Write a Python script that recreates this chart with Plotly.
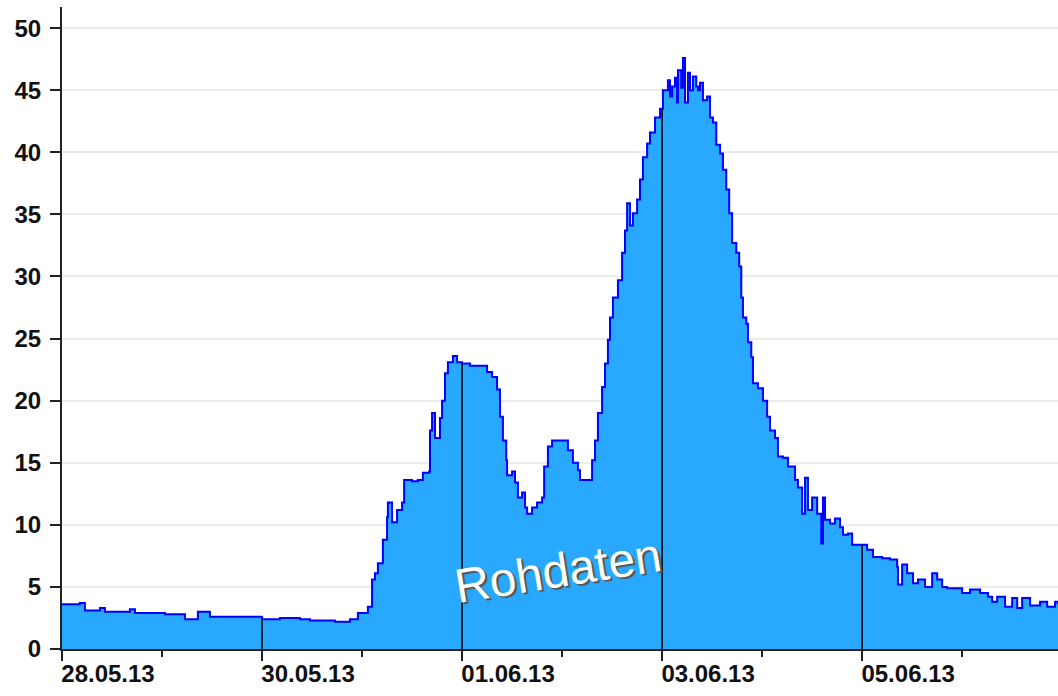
import numpy as np
import pandas as pd
import plotly.graph_objects as go

# hours since 28.05.13 00:00
hours = [0, 4.3, 5.5, 9.1, 10.3, 16.3, 17.5, 24.7, 29.5, 32.6, 35.5, 40.3, 48.0, 52.3, 57.1, 59.5,
         65.5, 69.1, 71.0, 73.0, 73.4, 74.4, 75.1, 75.8, 77.0, 78.0, 78.2, 79.2, 80.4, 81.6, 82.1,
         84.0, 85.4, 86.6, 88.1, 88.3, 88.8, 89.5, 90.7, 91.2, 91.9, 92.6, 93.8, 94.8, 96.0, 97.9,
         101.5, 102.0, 103.2, 104.4, 105.1, 105.8, 106.6, 106.8, 108.0, 108.7, 109.4, 110.4, 111.1,
         111.6, 112.8, 114.0, 115.2, 115.7, 116.6, 117.6, 120.7, 121.4, 122.6, 123.8, 124.3, 126.2,
         127.2, 127.9, 128.6, 129.6, 130.3, 131.0, 131.5, 132.2, 133.4, 134.4, 135.1, 135.6, 136.3,
         137.0, 138.0, 138.7, 139.4, 140.4, 141.1, 142.3, 143.5, 144.2, 145.4, 145.9, 146.4, 147.1,
         147.6, 147.8, 148.6, 149.0, 149.5, 150.2, 150.7, 151.4, 152.2, 152.6, 153.1, 153.8, 154.8,
         155.5, 156.2, 157.0, 157.9, 158.6, 159.4, 160.1, 160.8, 161.8, 162.5, 163.0, 163.4, 164.2,
         164.6, 165.4, 165.8, 167.0, 168.2, 169.2, 169.9, 171.1, 171.8, 173.0, 174.2, 175.2, 175.9,
         176.6, 177.6, 178.3, 179.0, 180.0, 181.2, 182.2, 182.6, 183.1, 184.3, 185.5, 186.7, 187.4,
         188.6, 189.6, 191.5, 193.2, 194.6, 196.8, 198.7, 200.4, 200.6, 201.6, 202.8, 204.2, 205.4,
         207.1, 208.8, 210.0, 211.2, 212.4, 214.8, 216.0, 217.9, 220.3, 222.2, 223.2, 224.4, 226.3,
         228.0, 229.2, 230.4, 232.3, 234.7, 236.4, 238.3, 239.0]

values = [3.6, 3.7, 3.1, 3.3, 3.0, 3.2, 2.9, 2.8, 2.4, 3.0, 2.6, 2.6, 2.4, 2.5, 2.4, 2.3,
          2.2, 2.4, 2.9, 2.9, 3.4, 5.6, 6.1, 6.9, 8.8, 10.6, 11.8, 10.2, 11.2, 11.8, 13.6,
          13.5, 13.6, 14.2, 14.3, 17.6, 19.0, 17.0, 18.6, 20.0, 22.2, 23.1, 23.6, 23.1, 23.0, 22.8,
          22.8, 22.3, 21.9, 20.9, 18.7, 16.8, 15.2, 14.0, 14.3, 13.4, 12.2, 12.6, 11.4,
          10.9, 11.4, 11.8, 12.2, 14.7, 16.3, 16.8, 16.8, 16.0, 15.0, 14.4, 13.6, 13.6,
          15.2, 16.8, 19.0, 21.1, 23.0, 24.9, 26.7, 28.3, 29.7, 31.9, 33.7, 35.9, 34.1,
          35.1, 36.2, 37.8, 39.6, 40.7, 41.6, 42.8, 43.5, 45.0, 45.8, 44.5, 45.3, 46.0,
          44.0, 46.6, 45.2, 47.6, 44.0, 46.4, 45.0, 46.1, 45.3, 45.0, 45.6, 44.2, 44.5,
          42.8, 42.4, 40.6, 39.9, 38.6, 37.0, 35.1, 32.7, 31.9, 30.8, 28.3, 26.7, 26.2,
          24.7, 23.5, 21.4, 21.0, 20.0, 18.7, 17.6, 17.0, 15.5, 15.4, 14.7, 14.7, 13.6,
          13.0, 10.9, 13.8, 11.2, 12.2, 10.9, 8.5, 12.2, 10.4, 10.1, 10.5, 9.8, 9.2,
          9.3, 8.4, 8.4, 8.0, 7.4, 7.3, 7.2, 6.6, 5.2, 6.8, 6.1, 5.3, 5.6,
          5.0, 6.1, 5.6, 5.0, 4.9, 4.9, 4.5, 4.8, 4.5, 4.2, 3.8, 4.2, 3.4,
          4.1, 3.3, 4.1, 3.5, 3.8, 3.4, 3.8, 3.6]

start = "2013-05-28"
drop_days = ["2013-05-30", "2013-06-01", "2013-06-03", "2013-06-05"]
label_text = "Rohdaten"

base = pd.Timestamp(start)
times = [base + pd.Timedelta(hours=h) for h in hours]
end = base + pd.Timedelta(hours=239)

fig = go.Figure()
fig.add_trace(go.Scatter(
    x=times, y=values, mode="lines", line=dict(color="#0000FF", width=2, shape="hv"),
    fill="tozeroy", fillcolor="#29A8FF", hoverinfo="skip", showlegend=False))

# drop lines from the axis up to the series value at selected days
dx, dy = [], []
hrs = np.array(hours)
for d in drop_days:
    t = pd.Timestamp(d)
    h = (t - base) / pd.Timedelta(hours=1)
    idx = max(int(np.searchsorted(hrs, h, side="right")) - 1, 0)
    dx += [t, t, None]
    dy += [0, values[idx], None]
fig.add_trace(go.Scatter(x=dx, y=dy, mode="lines", line=dict(color="#000000", width=1.5),
                         hoverinfo="skip", showlegend=False))

tickfont = dict(family="Arial, Liberation Sans, sans-serif", size=24, color="#111111", weight="bold")

fig.update_layout(
    width=1058, height=696,
    margin=dict(l=62, r=0, t=7, b=47),
    paper_bgcolor="white", plot_bgcolor="white",
    xaxis=dict(
        type="date", range=[base, end],
        tickformat="%d.%m.%y", dtick=2 * 86400000, tick0=start,
        ticks="outside", ticklen=10, tickwidth=2, tickcolor="#222222",
        showline=True, linecolor="#222222", linewidth=2,
        showgrid=False, zeroline=False, tickfont=tickfont,
        ticklabelshift=46, ticklabelstandoff=-8,
        minor=dict(dtick=86400000, tick0=start, ticks="outside", ticklen=6, tickwidth=2,
                   tickcolor="#222222", showgrid=False),
    ),
    yaxis=dict(
        range=[0, 51.7], tick0=0, dtick=5,
        ticks="outside", ticklen=10, tickwidth=2, tickcolor="#222222",
        showline=True, linecolor="#222222", linewidth=2,
        showgrid=True, gridcolor="#EBEBEB", gridwidth=2,
        zeroline=False, tickfont=tickfont, ticklabelstandoff=4,
    ),
    annotations=[dict(
        x=base + pd.Timedelta(hours=119.0), y=6.3, xref="x", yref="y",
        text=label_text, showarrow=False, textangle=-9,
        font=dict(family="Arial, Liberation Sans, sans-serif", size=48, color="white",
                  shadow="2px 2px 1px #555555"),
    )],
)

fig.write_html("out.html", config={"displayModeBar": False},
               post_script="document.body.style.margin='0';document.body.style.padding='0';")
